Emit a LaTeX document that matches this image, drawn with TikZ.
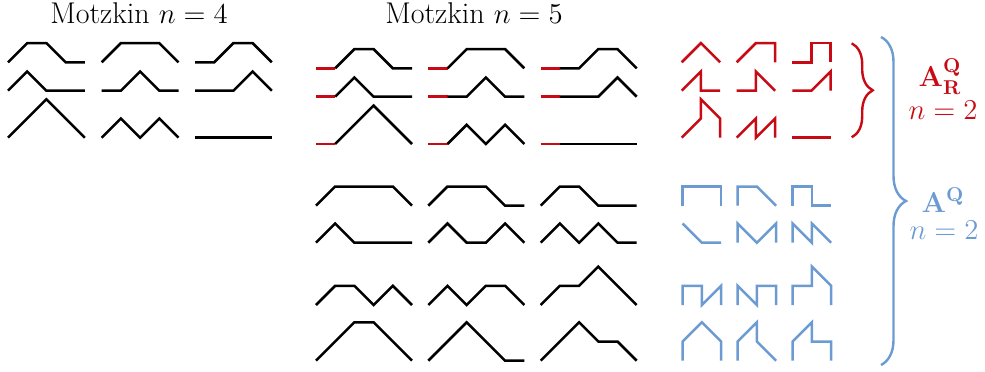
\documentclass[tikz,border=0pt]{standalone}
\usepackage{amsmath,amssymb}
\usepackage{xcolor}
\definecolor{qred}{HTML}{C80A14}
\definecolor{qblue}{HTML}{6C9BD2}
\usepackage{tikz}
\usetikzlibrary{decorations.pathreplacing}
\tikzset{
  mz/.style   ={line width=1.25pt, line join=miter},
  uu/.style   ={insert path={-- ++(19.2,19.2)}},
  dd/.style   ={insert path={-- ++(19.2,-19.2)}},
  ff/.style   ={insert path={-- ++(19.2,0)}},
  vu/.style   ={insert path={-- ++(0,19.2)}},
  vd/.style   ={insert path={-- ++(0,-19.2)}},
  qbrace/.style={decorate, decoration={brace, amplitude=#1}, line width=1.2pt},
  ttl/.style  ={font=\fontsize{15}{17}\selectfont, anchor=base, inner sep=0pt},
  lab/.style  ={font=\fontsize{14.5}{16}\selectfont, inner sep=0pt},
}
\newcommand{\mzk}[4][black]{\draw[mz,#1] (#2,#3) [#4];}
\newcommand{\mzkr}[3]{\draw[mz,qred] (#1,#2) [ff]; \draw[mz] (#1+19.2,#2) [#3];}

\begin{document}
\begin{tikzpicture}[x=0.5pt,y=0.5pt]
  \useasboundingbox (0,0) rectangle (985,371);
  \node[ttl] (t4) at (139,347.7) {Motzkin $n=4$};
  \node[ttl] (t5) at (474,347.7) {Motzkin $n=5$};

  % Motzkin n=4
  \mzk{8}{308.7}{uu,ff,dd,ff}
  \mzk{101.7}{308.7}{uu,ff,ff,dd}
  \mzk{195}{308.7}{ff,uu,ff,dd}
  \mzk{8}{280.3}{uu,dd,ff,ff}
  \mzk{101.7}{280.3}{ff,uu,dd,ff}
  \mzk{195}{280.3}{ff,ff,uu,dd}
  \mzk{8}{233.3}{uu,uu,dd,dd}
  \mzk{101.7}{233.3}{uu,dd,uu,dd}
  \mzk{195}{233.3}{ff,ff,ff,ff}

  % Motzkin n=5, leading flat step
  \mzkr{316}{302.7}{uu,ff,dd,ff}
  \mzkr{428.3}{302.7}{uu,ff,ff,dd}
  \mzkr{540.7}{302.7}{ff,uu,ff,dd}
  \mzkr{316}{274.3}{uu,dd,ff,ff}
  \mzkr{428.3}{274.3}{ff,uu,dd,ff}
  \mzkr{540.7}{274.3}{ff,ff,uu,dd}
  \mzkr{316}{227}{uu,uu,dd,dd}
  \mzkr{428.3}{227}{uu,dd,uu,dd}
  \mzkr{540.7}{227}{ff,ff,ff,ff}

  % Motzkin n=5, rest
  \mzk{316}{165.3}{uu,ff,ff,ff,dd}
  \mzk{428.3}{165.3}{uu,ff,ff,dd,ff}
  \mzk{540.7}{165.3}{uu,ff,dd,ff,ff}
  \mzk{316}{128.3}{uu,dd,ff,ff,ff}
  \mzk{428.3}{128.3}{uu,dd,ff,uu,dd}
  \mzk{540.7}{128.3}{uu,dd,uu,dd,ff}
  \mzk{316}{66}{uu,ff,dd,uu,dd}
  \mzk{428.3}{66}{uu,dd,uu,ff,dd}
  \mzk{540.7}{66}{uu,ff,uu,dd,dd}
  \mzk{316}{10.3}{uu,uu,ff,dd,dd}
  \mzk{428.3}{10.3}{uu,uu,dd,dd,ff}
  \mzk{540.7}{10.3}{uu,uu,dd,ff,dd}

  % A_R^Q
  \mzk[qred]{681.7}{308.7}{uu,dd}
  \mzk[qred]{736.7}{308.7}{uu,ff,vd}
  \mzk[qred]{792.3}{308.7}{ff,vu,ff,vd}
  \mzk[qred]{681.7}{280.3}{uu,vd,ff}
  \mzk[qred]{736.7}{280.3}{ff,vu,dd}
  \mzk[qred]{792.3}{280.3}{ff,uu,vd}
  \mzk[qred]{681.7}{233.3}{uu,vu,dd,vd}
  \mzk[qred]{736.7}{233.3}{uu,vd,uu,vd}
  \mzk[qred]{792.3}{233.3}{ff,ff}

  % A^Q
  \mzk[qblue]{682.7}{165.3}{vu,ff,ff,vd}
  \mzk[qblue]{737.7}{165.3}{vu,ff,dd}
  \mzk[qblue]{792.7}{165.3}{vu,ff,vd,ff}
  \mzk[qblue]{682.7}{147.5}{dd,ff}
  \mzk[qblue]{737.7}{128.3}{vu,dd,uu,vd}
  \mzk[qblue]{792.7}{128.3}{vu,dd,vu,dd}
  \mzk[qblue]{682.7}{66}{vu,ff,vd,uu,vd}
  \mzk[qblue]{737.7}{66}{vu,dd,vu,ff,vd}
  \mzk[qblue]{792.7}{66}{vu,ff,vu,dd,vd}
  \mzk[qblue]{682.7}{10.3}{vu,uu,dd,vd}
  \mzk[qblue]{737.7}{10.3}{vu,uu,vd,dd}
  \mzk[qblue]{792.7}{10.3}{vu,uu,vd,ff,vd}

  % braces and labels
  \coordinate (rtop) at (851.7,327.7);
  \coordinate (rbot) at (851.7,233.7);
  \coordinate (btop) at (881,334);
  \coordinate (bbot) at (881,6);
  \draw[qbrace=10.5pt, qred] (rtop) -- (rbot);
  \draw[qbrace=12.5pt, qblue] (btop) -- (bbot);
  \node[lab, text=qred] (ar) at (940,294) {$\mathbf{A}_{\mathbf{R}}^{\mathbf{Q}}$};
  \node[lab, text=qred] (nr) at (943,261) {$n=2$};
  \node[lab, text=qblue] (aq) at (943,171) {$\mathbf{A}^{\mathbf{Q}}$};
  \node[lab, text=qblue] (nq) at (944,141) {$n=2$};
\end{tikzpicture}
\end{document}
